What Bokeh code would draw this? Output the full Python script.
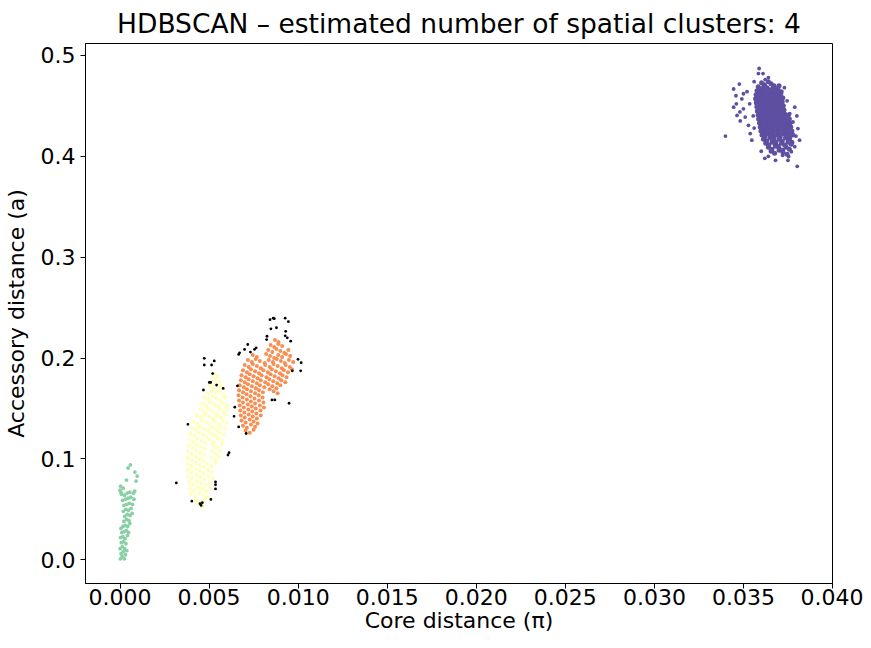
from bokeh.plotting import figure
from bokeh.models import Range1d, FixedTicker, NumeralTickFormatter, ColumnDataSource
from bokeh.embed import file_html
from bokeh.resources import INLINE

# ---------------- data ----------------
title_text = "HDBSCAN \u2013 estimated number of spatial clusters: 4"
x_label = "Core distance (\u03c0)"
y_label = "Accessory distance (a)"
x_ticks = [0.000, 0.005, 0.010, 0.015, 0.020, 0.025, 0.030, 0.035, 0.040]
y_ticks = [0.0, 0.1, 0.2, 0.3, 0.4, 0.5]

# cluster 0 (orange)
orange_pts = [
    (0.00870,0.218),(0.00890,0.216),
    (0.00845,0.213),(0.00865,0.211),(0.00888,0.214),(0.00910,0.212),
    (0.00832,0.208),(0.00855,0.206),(0.00878,0.209),(0.00900,0.207),(0.00922,0.205),(0.00945,0.208),
    (0.00745,0.203),(0.00768,0.201),(0.00820,0.204),(0.00842,0.202),(0.00865,0.200),(0.00888,0.203),(0.00910,0.201),(0.00932,0.204),(0.00955,0.202),
    (0.00718,0.198),(0.00740,0.196),(0.00762,0.199),(0.00785,0.197),(0.00812,0.195),(0.00835,0.198),(0.00858,0.196),(0.00880,0.199),(0.00903,0.197),(0.00925,0.195),(0.00948,0.198),(0.00972,0.196),
    (0.00700,0.193),(0.00722,0.191),(0.00745,0.194),(0.00768,0.192),(0.00790,0.190),(0.00815,0.193),(0.00840,0.191),(0.00862,0.194),(0.00885,0.192),(0.00908,0.190),(0.00930,0.193),(0.00953,0.191),
    (0.00690,0.188),(0.00712,0.186),(0.00735,0.189),(0.00758,0.187),(0.00780,0.185),(0.00805,0.188),(0.00830,0.186),(0.00852,0.189),(0.00875,0.187),(0.00898,0.185),(0.00920,0.188),(0.00943,0.186),(0.00965,0.189),
    (0.00682,0.183),(0.00705,0.181),(0.00728,0.184),(0.00750,0.182),(0.00772,0.180),(0.00795,0.183),(0.00822,0.181),(0.00845,0.184),(0.00868,0.182),(0.00890,0.180),(0.00912,0.183),(0.00935,0.181),
    (0.00678,0.178),(0.00700,0.176),(0.00722,0.179),(0.00745,0.177),(0.00768,0.175),(0.00790,0.178),(0.00815,0.176),(0.00838,0.179),(0.00860,0.177),(0.00882,0.175),(0.00905,0.178),(0.00928,0.176),
    (0.00672,0.173),(0.00695,0.171),(0.00718,0.174),(0.00740,0.172),(0.00762,0.170),(0.00785,0.173),(0.00810,0.171),(0.00832,0.174),(0.00855,0.172),(0.00878,0.170),(0.00900,0.173),
    (0.00668,0.168),(0.00690,0.166),(0.00712,0.169),(0.00735,0.167),(0.00758,0.165),(0.00780,0.168),(0.00802,0.166),(0.00840,0.169),(0.00862,0.167),(0.00885,0.165),
    (0.00665,0.163),(0.00688,0.161),(0.00710,0.164),(0.00732,0.162),(0.00755,0.160),(0.00778,0.163),(0.00800,0.161),
    (0.00668,0.158),(0.00690,0.156),(0.00712,0.159),(0.00735,0.157),(0.00758,0.155),(0.00780,0.158),(0.00805,0.156),
    (0.00672,0.153),(0.00695,0.151),(0.00718,0.154),(0.00740,0.152),(0.00762,0.150),(0.00785,0.153),(0.00808,0.151),
    (0.00675,0.148),(0.00698,0.146),(0.00720,0.149),(0.00742,0.147),(0.00765,0.145),(0.00788,0.148),
    (0.00678,0.143),(0.00700,0.141),(0.00722,0.144),(0.00745,0.142),(0.00768,0.140),(0.00790,0.143),
    (0.00682,0.138),(0.00705,0.136),(0.00728,0.139),(0.00750,0.137),(0.00772,0.135),
    (0.00690,0.133),(0.00712,0.131),(0.00735,0.134),(0.00758,0.132),
    (0.00705,0.128),(0.00728,0.126),(0.00750,0.129),
]

# cluster 1 (pale yellow)
yellow_pts = [
    (0.00525,0.184),(0.00548,0.182),
    (0.00512,0.177),(0.00535,0.179),(0.00558,0.176),
    (0.00503,0.173),(0.00522,0.171),(0.00545,0.174),(0.00566,0.172),
    (0.00492,0.165),(0.00514,0.167),(0.00536,0.166),(0.00558,0.168),(0.00580,0.164),
    (0.00475,0.161),(0.00497,0.159),(0.00520,0.162),(0.00542,0.160),(0.00565,0.158),(0.00590,0.161),
    (0.00462,0.155),(0.00485,0.153),(0.00508,0.156),(0.00530,0.154),(0.00553,0.152),(0.00575,0.155),(0.00598,0.153),
    (0.00448,0.149),(0.00470,0.147),(0.00493,0.150),(0.00515,0.148),(0.00538,0.146),(0.00560,0.149),(0.00583,0.147),(0.00606,0.150),
    (0.00432,0.143),(0.00455,0.141),(0.00478,0.144),(0.00500,0.142),(0.00522,0.140),(0.00545,0.143),(0.00568,0.141),(0.00590,0.144),
    (0.00410,0.137),(0.00435,0.135),(0.00460,0.138),(0.00484,0.136),(0.00507,0.134),(0.00530,0.137),(0.00553,0.135),(0.00577,0.138),(0.00600,0.136),
    (0.00402,0.131),(0.00425,0.129),(0.00448,0.132),(0.00472,0.130),(0.00495,0.128),(0.00518,0.131),(0.00542,0.129),(0.00565,0.132),(0.00588,0.130),
    (0.00395,0.125),(0.00418,0.123),(0.00442,0.126),(0.00465,0.124),(0.00488,0.122),(0.00512,0.125),(0.00535,0.123),(0.00558,0.126),(0.00582,0.124),
    (0.00388,0.119),(0.00410,0.117),(0.00433,0.120),(0.00456,0.118),(0.00480,0.116),(0.00503,0.119),(0.00527,0.117),(0.00550,0.120),(0.00573,0.118),
    (0.00385,0.113),(0.00407,0.111),(0.00430,0.114),(0.00453,0.112),(0.00476,0.110),(0.00522,0.113),(0.00545,0.111),(0.00568,0.114),
    (0.00382,0.107),(0.00404,0.105),(0.00427,0.108),(0.00450,0.106),(0.00473,0.104),(0.00518,0.107),(0.00540,0.105),(0.00562,0.108),
    (0.00380,0.101),(0.00402,0.099),(0.00425,0.102),(0.00448,0.100),(0.00470,0.098),(0.00515,0.101),(0.00536,0.099),(0.00555,0.102),
    (0.00378,0.095),(0.00400,0.093),(0.00423,0.096),(0.00446,0.094),(0.00468,0.092),(0.00492,0.095),(0.00515,0.093),(0.00538,0.096),
    (0.00380,0.089),(0.00402,0.087),(0.00425,0.090),(0.00448,0.088),(0.00470,0.086),(0.00494,0.089),(0.00517,0.087),
    (0.00383,0.083),(0.00405,0.081),(0.00428,0.084),(0.00450,0.082),(0.00473,0.080),(0.00497,0.083),(0.00520,0.081),
    (0.00388,0.077),(0.00410,0.075),(0.00433,0.078),(0.00456,0.076),(0.00480,0.074),(0.00504,0.077),
    (0.00392,0.071),(0.00415,0.069),(0.00438,0.072),(0.00462,0.070),(0.00486,0.068),(0.00510,0.071),
    (0.00398,0.065),(0.00420,0.063),(0.00444,0.066),(0.00468,0.064),(0.00492,0.062),
    (0.00425,0.059),(0.00450,0.057),(0.00475,0.060),
    (0.00440,0.055),(0.00462,0.053),
]

# cluster 2 (green)
green_pts = [
    (0.00002,0.001),(0.00012,0.003),(0.00024,0.001),(0.00006,0.006),(0.00018,0.008),(0.00030,0.005),
    (0.00000,0.011),(0.00013,0.013),(0.00026,0.011),(0.00038,0.009),(0.00007,0.017),(0.00020,0.018),
    (0.00033,0.016),(0.00002,0.022),(0.00015,0.023),(0.00028,0.021),(0.00042,0.024),(0.00010,0.027),
    (0.00023,0.028),(0.00036,0.029),(0.00048,0.027),(0.00005,0.031),
    (0.00016,0.033),(0.00029,0.034),(0.00043,0.033),(0.00055,0.036),(0.00021,0.038),(0.00036,0.040),
    (0.00050,0.039),(0.00026,0.043),(0.00040,0.045),(0.00056,0.044),(0.00068,0.046),(0.00018,0.048),
    (0.00032,0.050),(0.00047,0.049),(0.00062,0.051),(0.00022,0.054),(0.00038,0.055),(0.00053,0.056),
    (0.00070,0.055),(0.00014,0.059),(0.00030,0.060),(0.00045,0.061),(0.00060,0.062),(0.00078,0.060),
    (0.00008,0.065),(0.00024,0.064),(0.00040,0.066),
    (0.00000,0.069),(0.00003,0.073),(0.00018,0.071),(0.00055,0.067),(0.00075,0.066),(0.00082,0.068),
    (0.00036,0.079),(0.00090,0.078),(0.00096,0.083),(0.00083,0.087),(0.00045,0.091),(0.00058,0.094),
    (0.00005,0.067),
]

# cluster 3 (purple): scattered edge points
purple_edge_pts = [
    (0.03588,0.487),(0.03584,0.482),(0.03640,0.478),(0.03622,0.476),(0.03399,0.420),(0.03802,0.390),
    (0.03640,0.400),(0.03750,0.396),(0.03477,0.4716),(0.03445,0.4667),(0.03458,0.460),(0.03491,0.4569),
    (0.03445,0.4487),(0.03500,0.447),(0.03464,0.4405),(0.03510,0.4389),(0.03528,0.4307),(0.03538,0.4225),
    (0.03547,0.416),(0.03788,0.4487),(0.03760,0.4422),(0.03778,0.434),(0.03806,0.4275),(0.03815,0.416),
    (0.03788,0.4095),(0.03769,0.4046),(0.03754,0.3997),(0.03713,0.4618),(0.03695,0.4634),
    (0.03520,0.464),(0.03535,0.452),(0.03482,0.435),(0.03555,0.440),(0.03560,0.428),(0.03600,0.405),
    (0.03620,0.398),(0.03680,0.396),(0.03720,0.401),(0.03795,0.420),(0.03800,0.440),(0.03745,0.455),
    (0.03730,0.468),(0.03560,0.474),(0.03610,0.482),(0.03480,0.444),(0.03500,0.462),(0.03460,0.452),
]

# cluster 3 (purple): dense core
purple_core_pts = [
    (0.03602,0.473),(0.03618,0.471),(0.03640,0.474),(0.03655,0.472),(0.03672,0.470),
    (0.03583,0.469),(0.03598,0.467),(0.03615,0.470),(0.03633,0.468),(0.03650,0.466),(0.03668,0.469),(0.03684,0.467),(0.03700,0.470),
    (0.03576,0.465),(0.03592,0.463),(0.03610,0.466),(0.03626,0.464),(0.03645,0.462),(0.03660,0.465),(0.03678,0.463),(0.03695,0.466),(0.03712,0.464),
    (0.03571,0.461),(0.03588,0.459),(0.03604,0.462),(0.03622,0.460),(0.03638,0.458),(0.03655,0.461),(0.03672,0.459),(0.03688,0.462),(0.03705,0.460),(0.03721,0.458),
    (0.03568,0.457),(0.03585,0.455),(0.03602,0.458),(0.03618,0.456),(0.03635,0.454),(0.03652,0.457),(0.03668,0.455),(0.03685,0.458),(0.03702,0.456),(0.03718,0.454),
    (0.03572,0.453),(0.03590,0.451),(0.03606,0.454),(0.03624,0.452),(0.03640,0.450),(0.03657,0.453),(0.03674,0.451),(0.03690,0.454),(0.03708,0.452),(0.03724,0.450),
    (0.03575,0.449),(0.03592,0.447),(0.03610,0.450),(0.03627,0.448),(0.03644,0.446),(0.03660,0.449),(0.03677,0.447),(0.03694,0.450),(0.03712,0.448),(0.03728,0.446),
    (0.03578,0.445),(0.03595,0.443),(0.03612,0.446),(0.03630,0.444),(0.03646,0.442),(0.03663,0.445),(0.03680,0.443),(0.03697,0.446),(0.03714,0.444),(0.03732,0.442),
    (0.03582,0.441),(0.03598,0.439),(0.03615,0.442),(0.03632,0.440),(0.03650,0.438),(0.03666,0.441),(0.03683,0.439),(0.03700,0.442),(0.03718,0.440),(0.03736,0.438),(0.03752,0.441),
    (0.03585,0.437),(0.03602,0.435),(0.03620,0.438),(0.03636,0.436),(0.03653,0.434),(0.03670,0.437),(0.03687,0.435),(0.03704,0.438),(0.03722,0.436),(0.03740,0.434),(0.03758,0.437),
    (0.03590,0.433),(0.03606,0.431),(0.03624,0.434),(0.03640,0.432),(0.03658,0.430),(0.03675,0.433),(0.03692,0.431),(0.03708,0.434),(0.03726,0.432),(0.03744,0.430),(0.03762,0.433),
    (0.03594,0.429),(0.03610,0.427),(0.03628,0.430),(0.03645,0.428),(0.03662,0.426),(0.03680,0.429),(0.03696,0.427),(0.03714,0.430),(0.03730,0.428),(0.03748,0.426),(0.03766,0.429),
    (0.03598,0.425),(0.03615,0.423),(0.03632,0.426),(0.03650,0.424),(0.03666,0.422),(0.03684,0.425),(0.03700,0.423),(0.03718,0.426),(0.03736,0.424),(0.03754,0.422),(0.03772,0.425),
    (0.03604,0.421),(0.03620,0.419),(0.03638,0.422),(0.03655,0.420),(0.03672,0.418),(0.03690,0.421),(0.03706,0.419),(0.03724,0.422),(0.03742,0.420),(0.03760,0.418),(0.03778,0.421),
    (0.03612,0.417),(0.03630,0.415),(0.03648,0.418),(0.03665,0.416),(0.03682,0.414),(0.03700,0.417),(0.03718,0.415),(0.03736,0.418),(0.03754,0.416),(0.03772,0.414),
    (0.03625,0.413),(0.03642,0.411),(0.03660,0.414),(0.03678,0.412),(0.03696,0.410),(0.03714,0.413),(0.03732,0.411),(0.03750,0.414),(0.03768,0.412),
    (0.03640,0.409),(0.03660,0.407),(0.03680,0.410),(0.03700,0.408),(0.03720,0.406),(0.03740,0.409),(0.03758,0.407),
    (0.03655,0.405),(0.03675,0.403),(0.03700,0.406),(0.03722,0.404),(0.03745,0.402),
]

# noise points (black)
noise_pts = [
    (0.00842,0.238),(0.00860,0.2395),(0.00866,0.239),(0.00927,0.2395),(0.00945,0.236),(0.00847,0.229),
    (0.00878,0.230),(0.00930,0.2265),(0.00927,0.222),(0.00939,0.220),(0.00958,0.2167),(0.00825,0.2216),
    (0.00823,0.2183),(0.00717,0.2134),(0.00699,0.2085),(0.00671,0.2052),(0.00666,0.2036),(0.00732,0.2059),
    (0.00764,0.2101),(0.00755,0.2085),(0.00999,0.1987),(0.01017,0.1954),(0.01014,0.1873),(0.00967,0.1873),
    (0.00659,0.1725),(0.00853,0.1585),(0.00869,0.1585),(0.00949,0.1552),(0.00640,0.1422),(0.00666,0.1317),
    (0.00708,0.1252),(0.00473,0.1997),(0.00529,0.1971),(0.00473,0.1931),(0.00514,0.1931),(0.00520,0.1846),
    (0.00501,0.1758),(0.00509,0.1758),(0.00542,0.1732),(0.00468,0.1683),(0.00579,0.1699),(0.00644,0.1513),
    (0.00381,0.1343),(0.00606,0.1039),(0.00612,0.1062),(0.00316,0.0762),(0.00536,0.0772),(0.00536,0.0745),
    (0.00536,0.0703),(0.00403,0.0581),(0.00449,0.0556),(0.00462,0.0566),(0.00455,0.0539),(0.00510,0.0598),
]

colors = {"orange": "#f98e52", "yellow": "#feffbe", "green": "#88d0a4", "purple": "#5e4fa2", "noise": "#000000"}

# ---------------- figure ----------------
FONT = "DejaVu Sans"
p = figure(frame_width=747, frame_height=540, output_backend="svg", toolbar_location=None,
           x_range=Range1d(-0.00194, 0.0400), y_range=Range1d(-0.0235, 0.5118),
           min_border_left=77, min_border_right=31, min_border_top=40, min_border_bottom=52)
p.background_fill_color = "white"
p.border_fill_color = "white"
p.grid.visible = False
p.outline_line_color = "black"
p.outline_line_width = 1
p.outline_line_alpha = 1

p.title.text = title_text
p.title.align = "center"
p.title.text_font = FONT
p.title.text_font_size = "26.5px"
p.title.text_font_style = "normal"
p.title.text_color = "black"
p.title.padding = 4
p.title.standoff = 2

def unzip(pts):
    return [a for a, b in pts], [b for a, b in pts]

def draw(pts, color, size):
    xs, ys = unzip(pts)
    src = ColumnDataSource(dict(x=xs, y=ys))
    p.scatter("x", "y", source=src, size=size, fill_color=color, line_color=None, marker="circle")

draw(green_pts, colors["green"], 3.8)
draw(yellow_pts, colors["yellow"], 4.2)
draw(orange_pts, colors["orange"], 4.0)
draw(purple_edge_pts, colors["purple"], 3.8)
draw(purple_core_pts, colors["purple"], 5.0)
draw(noise_pts, colors["noise"], 2.8)

for ax in (p.xaxis[0], p.yaxis[0]):
    ax.axis_line_color = "black"
    ax.major_tick_line_color = "black"
    ax.major_tick_in = 0
    ax.major_tick_out = 5
    ax.minor_tick_line_color = None
    ax.major_label_text_font = FONT
    ax.major_label_text_font_size = "22px"
    ax.major_label_text_color = "black"
    ax.axis_label_text_font = FONT
    ax.axis_label_text_font_size = "22px"
    ax.axis_label_text_font_style = "normal"
    ax.axis_label_text_color = "black"

p.xaxis[0].major_label_standoff = 0
p.xaxis[0].axis_label_standoff = 0
p.yaxis[0].major_label_standoff = 5
p.yaxis[0].axis_label_standoff = 9

p.xaxis[0].ticker = FixedTicker(ticks=x_ticks)
p.xaxis[0].formatter = NumeralTickFormatter(format="0.000")
p.xaxis[0].axis_label = x_label
p.yaxis[0].ticker = FixedTicker(ticks=y_ticks)
p.yaxis[0].formatter = NumeralTickFormatter(format="0.0")
p.yaxis[0].axis_label = y_label

open("out.html", "w").write(file_html(p, INLINE))
